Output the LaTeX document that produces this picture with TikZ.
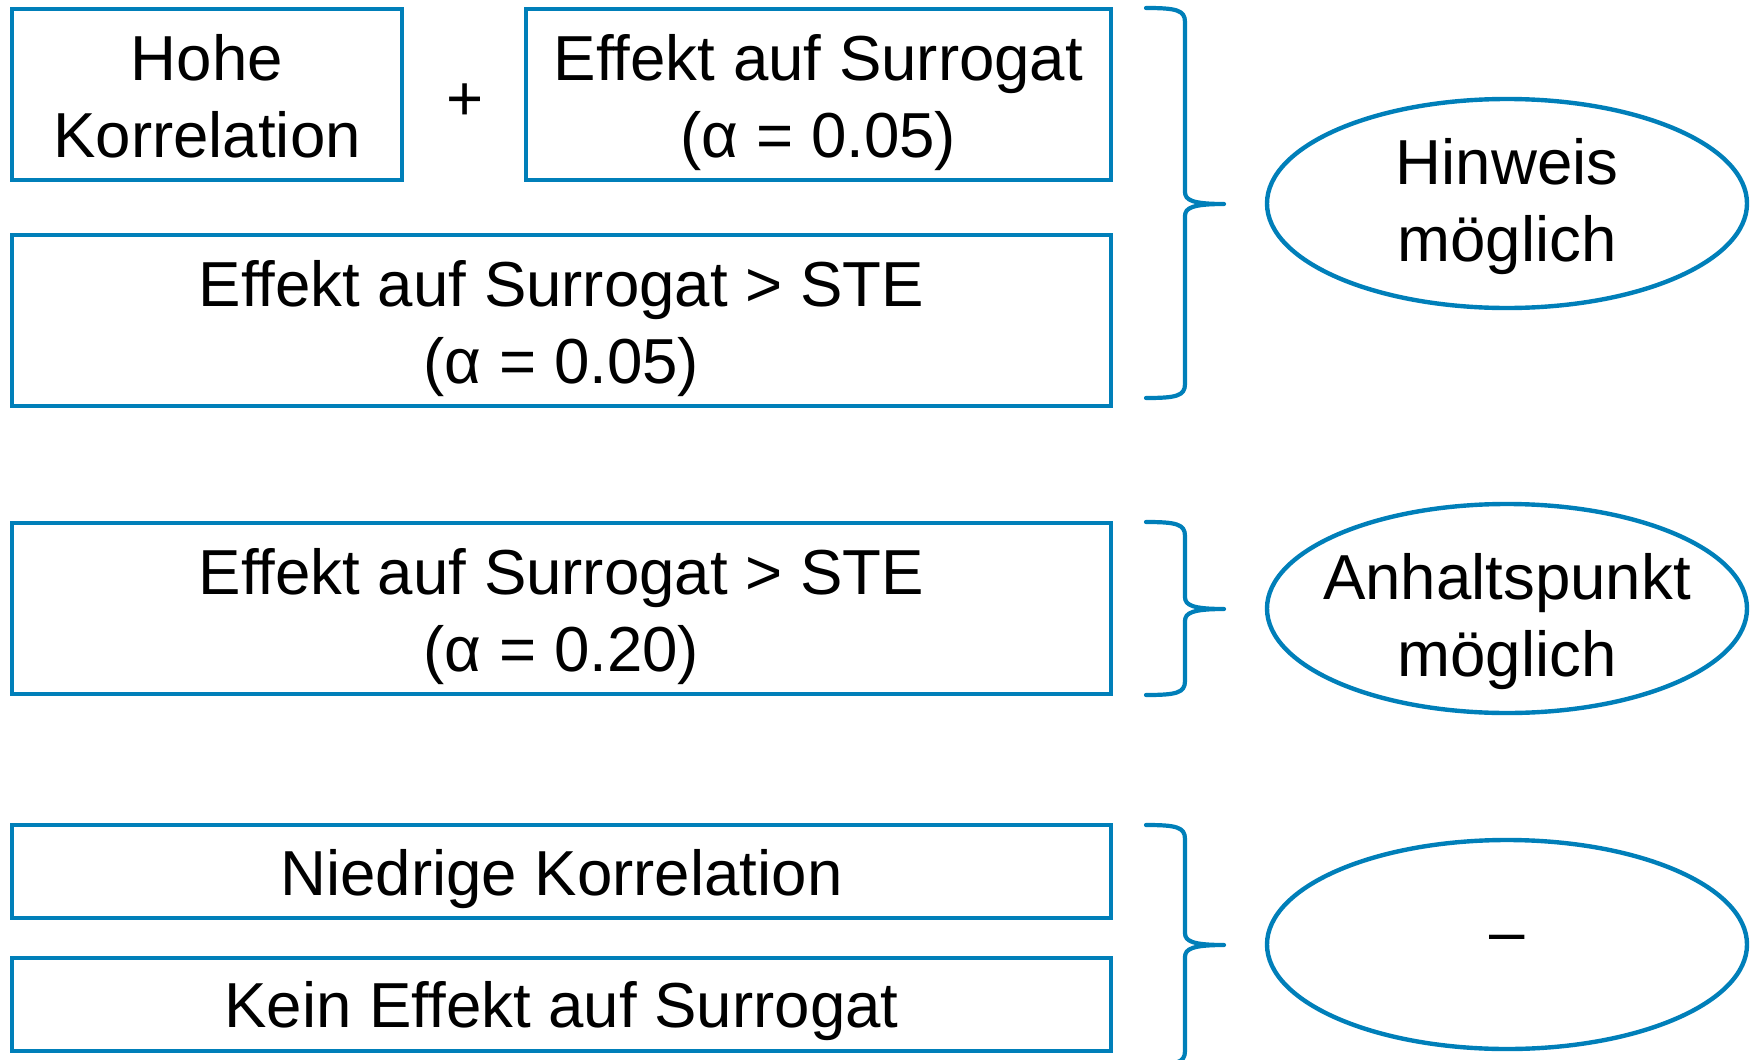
\documentclass[tikz,border=0pt]{standalone}
\usepackage{fontspec}
\setmainfont{Liberation Sans}
\usetikzlibrary{shapes.geometric}
\definecolor{frameblue}{RGB}{0,127,185}
\tikzset{
  lbl/.style={font=\fontsize{63.6}{77}\selectfont, align=center, inner sep=0pt, text=black},
  box/.style={lbl, draw=frameblue, line width=4.2pt, rectangle},
  verdict/.style={draw=frameblue, line width=4.4pt, ellipse, inner sep=0pt,
                  minimum width=480pt, minimum height=209pt},
  bracestyle/.style={draw=frameblue, line width=4.2pt, line cap=round, line join=round},
}
% invisible strut: a taller first line lets the text sit lower in its frame
\newcommand{\topstrut}[1]{\rule{0pt}{#1}}
% right curly brace: #1 top, #2 tip, #3 bottom (y values)
\newcommand{\rightbrace}[3]{%
  \draw[bracestyle] (1146,#1) .. controls (1176,#1) and (1185,#1+2) .. (1185,#1+14)
    -- (1185,#2-12) .. controls (1185,#2-4) and (1192,#2) .. (1224,#2)
    .. controls (1192,#2) and (1185,#2+4) .. (1185,#2+12)
    -- (1185,#3-14) .. controls (1185,#3-2) and (1176,#3) .. (1146,#3);}
\begin{document}
\begin{tikzpicture}[x=1pt,y=-1pt]
  \useasboundingbox (0,0) rectangle (1756,1060);
  \clip (0,0) rectangle (1756,1060);

  % conditions
  \node[box, minimum width=390pt, minimum height=171pt] (hohe) at (207,94.5) {\topstrut{49pt}Hohe\\Korrelation};
  \node[lbl] (plus) at (465,102) {+};
  \node[box, minimum width=585pt, minimum height=171pt] (surr) at (818.5,94.5) {\topstrut{62pt}Effekt auf Surrogat\\(α = 0.05)};
  \node[box, minimum width=1099pt, minimum height=171pt] (ste05) at (561.5,320.5) {\topstrut{62pt}Effekt auf Surrogat > STE\\(α = 0.05)};
  \node[box, minimum width=1099pt, minimum height=171pt] (ste20) at (561.5,608.5) {\topstrut{62pt}Effekt auf Surrogat > STE\\(α = 0.20)};
  \node[box, minimum width=1099pt, minimum height=93pt] (niedrig) at (561.5,871.5) {\topstrut{62pt}Niedrige Korrelation};
  \node[box, minimum width=1099pt, minimum height=93pt] (kein) at (561.5,1004.5) {\topstrut{60pt}Kein Effekt auf Surrogat};

  % braces
  \rightbrace{8}{204}{398}
  \rightbrace{522}{609}{695}
  \rightbrace{825}{945}{1065}

  % conclusions
  \node[verdict] (hinweis) at (1507,203.5) {};
  \node[lbl] (hinweis-t) at (hinweis.center) {\topstrut{51.5pt}Hinweis\\möglich};
  \node[verdict] (anhalt) at (1507,608.5) {};
  \node[lbl] (anhalt-t) at (anhalt.center) {\topstrut{72pt}Anhaltspunkt\\möglich};
  \node[verdict] (keiner) at (1507,944.5) {};
  \node[lbl] (keiner-t) at (keiner.center) {–};
\end{tikzpicture}
\end{document}
